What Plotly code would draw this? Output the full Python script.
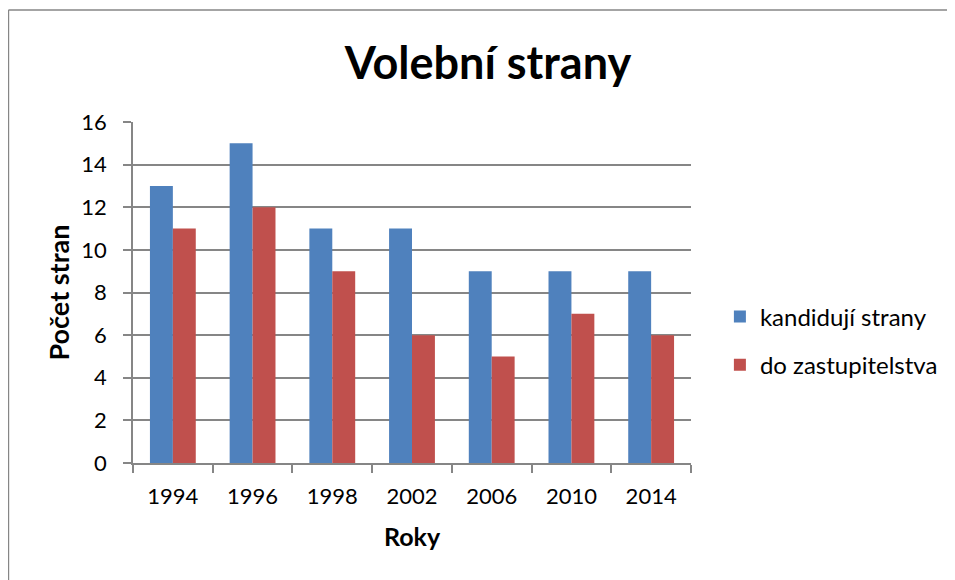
import plotly.graph_objects as go

years = ["1994", "1996", "1998", "2002", "2006", "2010", "2014"]
kandiduji = [13, 15, 11, 11, 9, 9, 9]
zastupitelstvo = [11, 12, 9, 6, 5, 7, 6]
series_names = ["kandidují strany", "do zastupitelstva"]

FONT = "Lato, Carlito, Calibri, sans-serif"
GRID = "#868686"

# figure is offset by the 8px page body margin
W, H = 947, 572
L, R, T, B = 125, 262, 114, 117
PW, PH = W - L - R, H - T - B


def px(xpage):
    return (xpage - 8 - L) / PW


def py(ypage):
    return (H - B - (ypage - 8)) / PH


fig = go.Figure()
fig.add_trace(go.Bar(x=years, y=kandiduji, name=series_names[0],
                     marker=dict(color="#4F81BD", line=dict(width=0)),
                     legendgroup="a"))
fig.add_trace(go.Bar(x=years, y=zastupitelstvo, name=series_names[1],
                     marker=dict(color="#C0504D", line=dict(width=0)),
                     legendgroup="b"))

fig.update_layout(
    width=W, height=H,
    margin=dict(l=L, r=R, t=T, b=B),
    paper_bgcolor="white", plot_bgcolor="white",
    barmode="group", bargap=0.425, bargroupgap=0,
    font=dict(family=FONT, size=22, color="black"),
    title=dict(text="<b>Volební strany</b>", font=dict(size=45, family=FONT),
               x=(488 - 8) / W, xanchor="center", y=1 - (63 - 8) / H, yanchor="middle"),
    xaxis=dict(title=dict(text="<b>Roky</b>", font=dict(size=25), standoff=20),
               showline=True, linecolor=GRID, linewidth=1.5,
               ticks="outside", ticklen=8, tickcolor=GRID, tickwidth=1.5,
               tickson="boundaries", showgrid=False, ticklabelstandoff=13,
               tickfont=dict(size=22)),
    yaxis=dict(title=dict(text="<b>Počet stran</b>", font=dict(size=27), standoff=4),
               range=[0, 16], dtick=2, tick0=0,
               showline=True, linecolor=GRID, linewidth=1.5,
               ticks="outside", ticklen=8, tickcolor=GRID, tickwidth=1.5,
               showgrid=True, gridcolor=GRID, gridwidth=1.5,
               zeroline=False, ticklabelstandoff=12, tickfont=dict(size=22)),
    legend=dict(x=px(722), xanchor="left", y=py(341), yanchor="middle",
                traceorder="grouped", tracegroupgap=14,
                font=dict(size=24), bgcolor="rgba(0,0,0,0)"),
    shapes=[
        dict(type="line", xref="paper", yref="paper",
             x0=px(8), x1=px(8), y0=py(10), y1=py(600),
             line=dict(color=GRID, width=1.5)),
        dict(type="line", xref="paper", yref="paper",
             x0=px(8), x1=px(955), y0=py(10), y1=py(10),
             line=dict(color=GRID, width=1.5)),
    ],
)

fig.write_html("out.html")
